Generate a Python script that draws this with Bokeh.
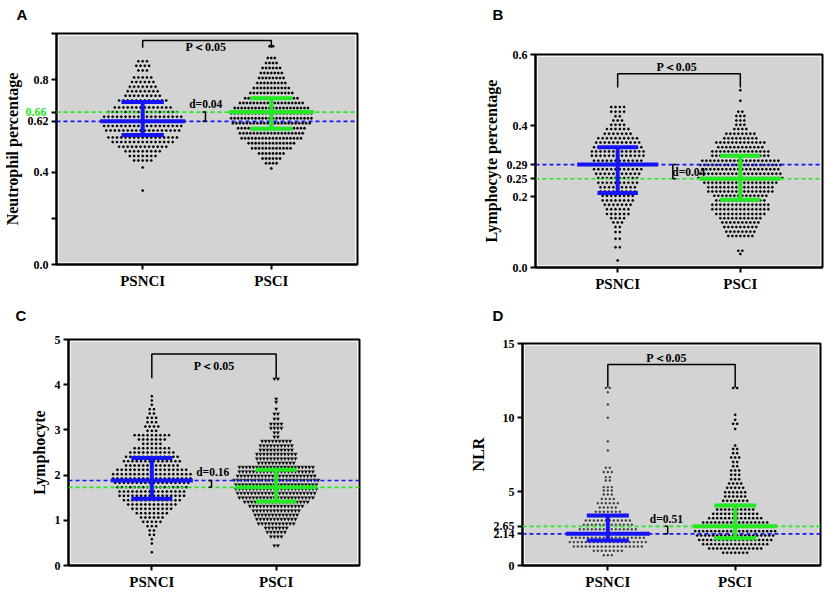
from bokeh.plotting import figure
from bokeh.models import FixedTicker, Span, Title, LinearAxis
from bokeh.layouts import row, column
from bokeh.embed import file_html
from bokeh.resources import INLINE
from bokeh.core.properties import value

SERIF = "Liberation Serif"
SANS = "Liberation Sans"
BLUE = "#1414f5"
GREEN = "#25e825"

categories = ["PSNCI", "PSCI"]

# ---------------- Panel A : Neutrophil percentage ----------------
a_psnci_y = [0.88, 0.86, 0.84, 0.81, 0.79, 0.77, 0.75, 0.73, 0.71, 0.68, 0.66, 0.64,
             0.62, 0.60, 0.58, 0.55, 0.53, 0.51, 0.49, 0.47, 0.45, 0.42, 0.32]
a_psnci_n = [3, 4, 3, 5, 6, 7, 8, 9, 12, 14, 17, 19, 19, 19, 18, 17, 15, 12, 9, 7, 5, 1, 1]
a_psci_y = [0.945, 0.894, 0.872, 0.851, 0.829, 0.807, 0.786, 0.764, 0.742, 0.720, 0.699, 0.677,
            0.655, 0.633, 0.612, 0.590, 0.568, 0.546, 0.525, 0.503, 0.481, 0.459, 0.438, 0.416]
a_psci_n = [2, 3, 4, 6, 7, 8, 9, 11, 13, 16, 19, 22, 24, 24, 23, 20, 19, 18, 14, 12, 8, 6, 4, 1]
a_mean = [0.62, 0.66]
a_upper = [0.704, 0.72]
a_lower = [0.561, 0.588]

# ---------------- Panel B : Lymphocyte percentage ----------------
b_psnci_y = [0.452, 0.439, 0.426, 0.414, 0.402, 0.390, 0.377, 0.364, 0.352, 0.339, 0.327, 0.315,
             0.301, 0.289, 0.277, 0.264, 0.252, 0.239, 0.226, 0.214, 0.202, 0.189, 0.177, 0.164,
             0.151, 0.139, 0.127, 0.114, 0.100, 0.081, 0.057, 0.020]
b_psnci_n = [4, 4, 2, 3, 4, 6, 7, 10, 11, 12, 13, 13, 12, 13, 12, 11, 10, 10, 9, 9, 8, 8, 7, 6,
             6, 4, 3, 2, 2, 2, 2, 1]
b_psci_y = [0.499, 0.470, 0.439, 0.427, 0.414, 0.402, 0.390, 0.377, 0.364, 0.352, 0.339, 0.327,
            0.315, 0.301, 0.289, 0.277, 0.264, 0.252, 0.239, 0.226, 0.214, 0.202, 0.189, 0.177,
            0.164, 0.151, 0.139, 0.127, 0.114, 0.101, 0.089, 0.047, 0.038]
b_psci_n = [1, 1, 2, 3, 3, 3, 4, 8, 9, 13, 12, 15, 15, 20, 21, 20, 21, 22, 19, 17, 17, 14, 13, 15,
            15, 13, 11, 10, 9, 8, 7, 2, 1]
b_mean = [0.29, 0.25]
b_upper = [0.339, 0.315]
b_lower = [0.210, 0.191]

# ---------------- Panel C : Lymphocyte ----------------
c_psnci_y = [3.746, 3.650, 3.555, 3.459, 3.363, 3.267, 3.171, 3.075, 2.979, 2.884, 2.788, 2.692,
             2.596, 2.500, 2.404, 2.308, 2.212, 2.117, 2.021, 1.925, 1.829, 1.733, 1.637, 1.541,
             1.445, 1.350, 1.254, 1.158, 1.062, 0.966, 0.870, 0.774, 0.679, 0.583, 0.487, 0.295]
c_psnci_n = [1, 1, 1, 2, 2, 3, 3, 4, 3, 9, 7, 5, 9, 11, 13, 14, 13, 17, 19, 19, 18, 17, 16, 16,
             14, 12, 10, 8, 6, 5, 3, 2, 2, 1, 1, 1]
c_psci_y = [4.130, 3.687, 3.614, 3.466, 3.356, 3.245, 3.134, 3.038, 2.943, 2.847, 2.751, 2.655,
            2.559, 2.463, 2.367, 2.271, 2.176, 2.080, 1.984, 1.888, 1.792, 1.696, 1.600, 1.504,
            1.409, 1.313, 1.217, 1.121, 1.025, 0.929, 0.833, 0.737, 0.642, 0.442]
c_psci_n = [2, 1, 1, 1, 2, 2, 4, 4, 2, 2, 9, 10, 10, 12, 12, 11, 22, 22, 23, 25, 24, 24, 23, 22,
            19, 16, 14, 13, 12, 11, 7, 6, 4, 2]
c_mean = [1.88, 1.73]
c_upper = [2.38, 2.12]
c_lower = [1.475, 1.416]

# ---------------- Panel D : NLR ----------------
d_psnci_y = [12.0, 11.7, 10.88, 9.98, 8.38, 7.77, 6.60, 6.31, 5.97, 5.74, 5.29, 5.07, 4.80,
             4.50, 4.21, 3.92, 3.63, 3.33, 3.04, 2.75, 2.45, 2.16, 1.87, 1.58, 1.28, 0.99, 0.70]
d_psnci_n = [2, 1, 1, 1, 1, 1, 2, 3, 2, 2, 3, 3, 3, 4, 6, 5, 7, 8, 12, 13, 15, 19, 19, 20, 18, 8, 3]
d_psci_y = [12.0, 10.18, 9.84, 9.57, 9.23, 8.11, 7.88, 7.59, 7.30, 7.00, 6.71, 6.42, 6.13, 5.83,
            5.54, 5.25, 4.95, 4.66, 4.37, 4.08, 3.78, 3.49, 3.20, 2.91, 2.61, 2.32, 2.03, 1.73,
            1.44, 1.15, 0.86]
d_psci_n = [2, 1, 1, 2, 1, 1, 2, 2, 3, 2, 2, 3, 3, 3, 4, 5, 6, 6, 7, 8, 10, 12, 14, 17, 19, 21,
            20, 19, 17, 14, 7]
d_mean = [2.14, 2.65]
d_upper = [3.38, 4.05]
d_lower = [1.69, 1.84]

X0, X1 = 0.33, 2.67


def make_panel(letter, size, borders, y_end, ticks, tick_labels, ylabel, groups,
               means, uppers, lowers, sig, dnote, letter_pos, green_tick=None):
    w, h = size
    bl, br, bt, bb = borders
    p = figure(width=w, height=h, x_range=(X0, X1), y_range=(0, y_end),
               output_backend="svg", toolbar_location=None, frame_align=False,
               min_border_left=bl, min_border_right=br, min_border_top=bt, min_border_bottom=bb)
    p.title = None
    # spacer (closest to the frame) then the panel letter
    p.add_layout(Title(text=" ", text_font_size="1px", standoff=letter_pos[1]), "above")
    p.add_layout(Title(text=letter, align="left", offset=letter_pos[0], standoff=0,
                       text_font=SANS, text_font_style="bold", text_font_size="15px",
                       text_color="black"), "above")
    p.background_fill_color = "#f3f3f3"
    p.border_fill_color = "white"
    p.outline_line_color = "black"
    p.outline_line_width = 2
    p.xgrid.visible = False
    p.ygrid.visible = False

    ppx = (w - bl - br) / (X1 - X0)
    ppy = (h - bt - bb) / y_end
    inset = 2.5
    p.quad(left=[X0 + inset / ppx], right=[X1 - inset / ppx], bottom=[inset / ppy],
           top=[y_end - inset / ppy], fill_color="#d3d3d3", line_color=None, level="underlay")

    # beeswarm dots
    for gi, (ys, ns, dx_px, marker, color, sz, lw) in enumerate(groups):
        c = gi + 1
        xs, yy = [], []
        for yv, n in zip(ys, ns):
            for i in range(n):
                xs.append(c + (i - (n - 1) / 2) * dx_px / ppx)
                yy.append(yv)
        p.scatter(xs, yy, marker=marker, size=sz, fill_color=color, line_color="white",
                  line_width=lw)

    # dashed mean lines
    for m, col in zip(means, [BLUE, GREEN]):
        p.add_layout(Span(location=m, dimension="width", line_color=col, line_dash="4 3",
                          line_width=1.7))

    # mean / SD bars
    cx = [1, 2]
    cols = [BLUE, GREEN]
    p.segment(x0=[c - 0.33 for c in cx], x1=[c + 0.33 for c in cx], y0=means, y1=means,
              line_color=cols, line_width=4, level="overlay")
    p.segment(x0=[c - 0.165 for c in cx], x1=[c + 0.165 for c in cx], y0=uppers, y1=uppers,
              line_color=cols, line_width=4, level="overlay")
    p.segment(x0=[c - 0.165 for c in cx], x1=[c + 0.165 for c in cx], y0=lowers, y1=lowers,
              line_color=cols, line_width=4, level="overlay")
    p.segment(x0=cx, x1=cx, y0=lowers, y1=uppers, line_color=cols, line_width=4, level="overlay")

    # significance bracket
    top, leg_l, leg_r, tx, ty = sig
    p.line([1, 1, 2, 2], [leg_l, top, top, leg_r], line_color="black", line_width=1.5)
    p.text(x=[tx], y=[ty], text=["P\uff1c0.05"], text_font=value(SERIF),
           text_font_style="bold", text_font_size="12px", text_align="center",
           text_baseline="middle", text_color="black")

    # difference bracket
    bx, dtx, dty, dtext, tick_dir = dnote
    lo, hi = min(means), max(means)
    tk = tick_dir * 3.0 / ppx
    p.line([bx + tk, bx, bx, bx + tk], [lo, lo, hi, hi], line_color="black", line_width=1.5,
           level="overlay")
    p.text(x=[dtx], y=[dty], text=[dtext], text_font=value(SERIF), text_font_style="bold",
           text_font_size="11.5px", text_align="center", text_baseline="middle",
           text_color="black", level="overlay")

    # axes
    for ax in (p.xaxis[0], p.yaxis[0]):
        ax.axis_line_width = 2
        ax.axis_line_color = "black"
        ax.major_tick_line_width = 2
        ax.major_tick_out = 5
        ax.major_tick_in = 0
        ax.minor_tick_line_color = None
        ax.major_label_text_font = SERIF
        ax.major_label_text_font_style = "bold"
        ax.major_label_text_color = "black"
        ax.major_label_standoff = 3
    p.xaxis.ticker = FixedTicker(ticks=[1, 2])
    p.xaxis.major_label_overrides = {1: categories[0], 2: categories[1]}
    p.xaxis.major_label_text_font_size = "15px"
    p.xaxis.major_label_standoff = 3
    p.xaxis.axis_label = None
    p.yaxis.ticker = FixedTicker(ticks=ticks)
    p.yaxis.major_label_overrides = dict(zip(ticks, tick_labels))
    p.yaxis.major_label_text_font_size = "12px"
    p.yaxis.axis_label = ylabel
    p.yaxis.axis_label_text_font = SERIF
    p.yaxis.axis_label_text_font_style = "bold"
    p.yaxis.axis_label_text_font_size = "16px"
    p.yaxis.axis_label_text_color = "black"
    p.yaxis.axis_label_standoff = 4

    if green_tick is not None:
        g_ax = LinearAxis(ticker=FixedTicker(ticks=[green_tick[0]]),
                          major_label_overrides={green_tick[0]: green_tick[1]})
        g_ax.axis_line_color = None
        g_ax.major_tick_line_color = None
        g_ax.minor_tick_line_color = None
        g_ax.major_tick_out = 0
        g_ax.major_tick_in = 0
        g_ax.major_label_standoff = green_tick[2]
        g_ax.major_label_text_font = SERIF
        g_ax.major_label_text_font_style = "bold"
        g_ax.major_label_text_font_size = "12px"
        g_ax.major_label_text_color = GREEN
        p.add_layout(g_ax, "left")
    return p


pA = make_panel("A", (414, 299), (55, 57, 33, 35), 1.0,
                [0, 0.2, 0.4, 0.62, 0.66, 0.8, 1],
                ["0.0", "", "0.4", "0.62", "", "0.8", ""],
                "Neutrophil percentage",
                [(a_psnci_y, a_psnci_n, 4.3, "circle", "black", 3.5, 0.6),
                 (a_psci_y, a_psci_n, 3.5, "circle", "black", 3.5, 0.5)],
                a_mean, a_upper, a_lower,
                (0.97, 0.938, 0.938, 1.49, 0.94),
                (1.488, 1.49, 0.695, "d=0.04", -1),
                (-40, 8), green_tick=(0.66, "0.66", -46))

pB = make_panel("B", (415, 299), (121, 7, 54, 32), 0.6,
                [0, 0.2, 0.25, 0.29, 0.4, 0.6],
                ["0.0", "0.2", "0.25", "0.29", "0.4", "0.6"],
                "Lymphocyte percentage",
                [(b_psnci_y, b_psnci_n, 4.3, "circle", "black", 3.5, 0.6),
                 (b_psci_y, b_psci_n, 4.0, "circle", "black", 3.5, 0.6)],
                b_mean, b_upper, b_lower,
                (0.546, 0.507, 0.507, 1.48, 0.566),
                (1.45, 1.58, 0.269, "d=0.04", 1),
                (-43, 29))

pC = make_panel("C", (414, 293), (68, 55, 40, 27), 5,
                [0, 1, 2, 3, 4, 5],
                ["0", "1", "2", "3", "4", "5"],
                "Lymphocyte",
                [(c_psnci_y, c_psnci_n, 4.3, "circle", "black", 3.5, 0.6),
                 (c_psci_y, c_psci_n, 3.5, "inverted_triangle", "black", 4.6, 0.35)],
                c_mean, c_upper, c_lower,
                (4.68, 4.14, 4.14, 1.50, 4.42),
                (1.48, 1.49, 2.06, "d=0.16", -1),
                (-53, 13))

pD = make_panel("D", (415, 293), (108, 9, 44, 27), 15,
                [0, 2.14, 2.65, 5, 10, 15],
                ["0", "2.14", "2.65", "5", "10", "15"],
                "NLR",
                [(d_psnci_y, d_psnci_n, 4.0, "circle", "#4a4a4a", 3.5, 0.6),
                 (d_psci_y, d_psci_n, 4.0, "circle", "black", 3.5, 0.6)],
                d_mean, d_upper, d_lower,
                (13.58, 12.03, 12.03, 1.46, 14.05),
                (1.47, 1.46, 3.15, "d=0.51", -1),
                (-30, 17))

layout = column(row(pA, pB), row(pC, pD))
open("out.html", "w").write(file_html(layout, INLINE))
